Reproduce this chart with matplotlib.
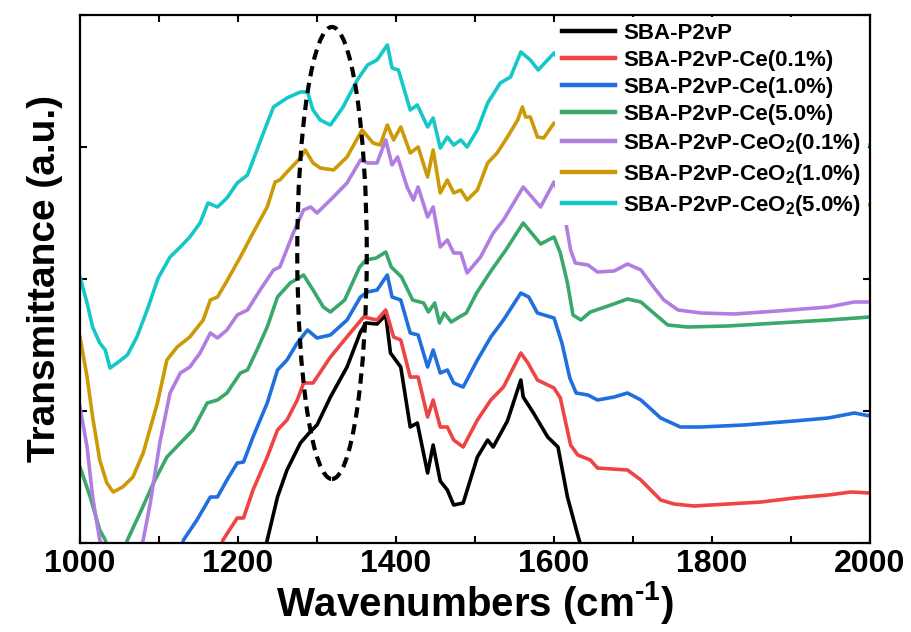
import matplotlib
matplotlib.use("Agg")
import matplotlib.pyplot as plt
from matplotlib.patches import Ellipse

plt.rcParams['font.family'] = ['Liberation Sans', 'DejaVu Sans']
plt.rcParams['font.weight'] = 'bold'
plt.rcParams['mathtext.fontset'] = 'custom'
plt.rcParams['mathtext.rm'] = 'Liberation Sans:bold'
plt.rcParams['mathtext.bf'] = 'Liberation Sans:bold'

# FTIR spectra, offset for clarity (arbitrary units)
wn_black = [1230, 1237, 1250, 1262, 1279, 1290, 1300, 1317, 1338, 1355, 1362, 1376, 1387, 1393,
            1406, 1418, 1427, 1440, 1447, 1456, 1465, 1473, 1485, 1503, 1516, 1523, 1541, 1558,
            1561, 1574, 1592, 1605, 1617, 1630, 1640]
t_black = [-20, 3, 46, 73, 100, 110, 118, 146, 176, 211, 220, 219, 228, 190,
           176, 116, 120, 70, 98, 62, 53, 38, 40, 86, 103, 96, 122, 163,
           146, 130, 106, 96, 46, 8, -20]

wn_red = [1175, 1181, 1199, 1207, 1219, 1237, 1250, 1262, 1275, 1283, 1295, 1317, 1342, 1359,
          1376, 1387, 1397, 1406, 1418, 1428, 1440, 1447, 1456, 1465, 1473, 1485, 1503, 1520,
          1536, 1558, 1567, 1579, 1600, 1608, 1621, 1630, 1646, 1655, 1693, 1710, 1735, 1752,
          1777, 1820, 1862, 1904, 1947, 1976, 2000]
t_red = [-20, 3, 25, 25, 53, 86, 113, 123, 143, 160, 160, 186, 210, 226,
         223, 233, 206, 203, 166, 166, 126, 143, 116, 116, 103, 96, 123, 143,
         156, 190, 180, 163, 155, 145, 98, 88, 83, 75, 73, 63, 43, 39,
         37, 39, 41, 45, 48, 51, 50]

wn_blue = [1125, 1131, 1148, 1165, 1174, 1186, 1199, 1207, 1219, 1237, 1250, 1262, 1275, 1288,
           1300, 1317, 1338, 1355, 1364, 1376, 1389, 1395, 1406, 1418, 1428, 1440, 1447, 1456,
           1465, 1473, 1485, 1503, 1520, 1536, 1558, 1568, 1579, 1600, 1610, 1620, 1628, 1643,
           1655, 1676, 1693, 1710, 1735, 1760, 1786, 1840, 1904, 1947, 1980, 2000]
t_blue = [-20, 3, 23, 46, 46, 63, 80, 81, 106, 140, 173, 183, 200, 213,
          205, 208, 223, 246, 251, 253, 268, 246, 243, 210, 208, 176, 193, 170,
          173, 160, 156, 183, 206, 223, 250, 246, 230, 225, 200, 165, 150, 148,
          143, 146, 150, 143, 125, 116, 116, 118, 122, 125, 130, 127]

wn_green = [1000, 1013, 1025, 1032, 1040, 1052, 1060, 1076, 1093, 1110, 1127, 1143, 1161, 1174,
            1186, 1203, 1212, 1224, 1237, 1250, 1266, 1283, 1295, 1308, 1317, 1335, 1354, 1362,
            1375, 1387, 1394, 1407, 1421, 1435, 1441, 1449, 1455, 1461, 1470, 1480, 1489, 1502,
            1521, 1539, 1561, 1583, 1600, 1608, 1617, 1624, 1634, 1646, 1672, 1693, 1710, 1726,
            1744, 1769, 1820, 1883, 1947, 2000]
t_green = [76, 46, 13, 3, -20, -20, 3, 30, 60, 86, 100, 113, 140, 143,
           150, 170, 173, 193, 216, 246, 260, 268, 253, 236, 231, 243, 276, 283,
           285, 291, 276, 266, 243, 240, 231, 240, 220, 230, 221, 226, 230, 250,
           273, 293, 320, 299, 306, 290, 260, 228, 223, 231, 238, 244, 241, 230,
           218, 216, 217, 220, 223, 226]

wn_purple = [1000, 1009, 1016, 1025, 1040, 1070, 1080, 1089, 1101, 1114, 1127, 1139, 1152, 1165,
             1174, 1186, 1199, 1212, 1228, 1245, 1253, 1270, 1283, 1292, 1300, 1317, 1338, 1355,
             1364, 1376, 1387, 1395, 1402, 1414, 1422, 1428, 1440, 1447, 1456, 1465, 1473, 1482,
             1490, 1507, 1523, 1536, 1561, 1583, 1600, 1608, 1615, 1621, 1627, 1643, 1655, 1676,
             1693, 1710, 1726, 1739, 1757, 1786, 1828, 1883, 1947, 1980, 2000]
t_purple = [136, 96, 46, 3, -20, -20, 3, 40, 100, 150, 170, 176, 190, 210,
            205, 213, 228, 233, 253, 273, 276, 310, 333, 336, 330, 343, 360, 383,
            380, 380, 403, 378, 386, 356, 343, 356, 326, 336, 296, 303, 290, 290,
            270, 286, 310, 323, 356, 336, 361, 345, 320, 293, 280, 278, 271, 272,
            279, 273, 256, 243, 233, 230, 229, 232, 236, 241, 241]

wn_gold = [1000, 1009, 1016, 1025, 1034, 1042, 1054, 1067, 1080, 1098, 1110, 1123, 1139, 1156,
           1165, 1174, 1186, 1203, 1219, 1237, 1247, 1253, 1262, 1279, 1285, 1295, 1304, 1321,
           1338, 1357, 1371, 1380, 1389, 1397, 1406, 1418, 1428, 1440, 1447, 1456, 1465, 1473,
           1482, 1490, 1503, 1516, 1528, 1541, 1554, 1560, 1564, 1570, 1579, 1587, 1600, 1615,
           1627, 1643, 1676, 1693, 1726, 1757, 1786, 1883, 1947, 2000]
t_gold = [206, 166, 126, 83, 60, 51, 56, 66, 90, 140, 183, 196, 206, 223,
          243, 246, 262, 286, 310, 336, 361, 363, 371, 385, 393, 380, 375, 373,
          386, 413, 400, 398, 418, 403, 416, 390, 396, 366, 393, 350, 363, 350,
          353, 343, 353, 380, 390, 406, 423, 436, 426, 426, 406, 405, 420, 410,
          385, 372, 370, 376, 356, 333, 330, 332, 335, 338]

wn_cyan = [1000, 1009, 1016, 1025, 1032, 1038, 1047, 1060, 1072, 1085, 1099, 1114, 1127, 1139,
           1152, 1162, 1174, 1186, 1199, 1212, 1224, 1237, 1245, 1262, 1279, 1288, 1295, 1304,
           1317, 1333, 1351, 1364, 1376, 1389, 1395, 1403, 1418, 1427, 1440, 1447, 1456, 1465,
           1473, 1482, 1490, 1503, 1516, 1532, 1545, 1558, 1570, 1580, 1600, 1627, 1655, 1693,
           1726, 1757, 1800, 1900, 2000]
t_cyan = [266, 240, 216, 200, 193, 175, 180, 188, 206, 233, 265, 286, 296, 306,
          320, 340, 336, 345, 360, 368, 393, 420, 436, 445, 451, 451, 433, 423,
          418, 436, 463, 478, 483, 498, 475, 473, 433, 438, 416, 425, 395, 406,
          398, 403, 396, 413, 440, 460, 466, 491, 483, 473, 490, 460, 448, 450,
          430, 400, 395, 396, 398]

labels = ['SBA-P2vP', 'SBA-P2vP-Ce(0.1%)', 'SBA-P2vP-Ce(1.0%)', 'SBA-P2vP-Ce(5.0%)',
          r'SBA-P2vP-CeO$_\mathbf{2}$(0.1%)', r'SBA-P2vP-CeO$_\mathbf{2}$(1.0%)',
          r'SBA-P2vP-CeO$_\mathbf{2}$(5.0%)']
colors = ['#000000', '#ef4444', '#1f6fdf', '#3aa86b', '#b07ee0', '#cc9a06', '#14c8c8']

series = [(wn_black, t_black), (wn_red, t_red), (wn_blue, t_blue), (wn_green, t_green),
          (wn_purple, t_purple), (wn_gold, t_gold), (wn_cyan, t_cyan)]

fig = plt.figure(figsize=(9.12, 6.32), dpi=100)
ax = fig.add_axes([0.0877, 0.1408, 0.8663, 0.8355])

for (x, y), c, lab in zip(series, colors, labels):
    ax.plot(x, y, color=c, lw=2.6, label=lab)

# dashed ellipse marking the band near 1320 cm-1
ell = Ellipse((1319, 290), width=88, height=452, fill=False, edgecolor='black',
              lw=3, linestyle=(0, (2.5, 1.6)), zorder=4)
ax.add_patch(ell)

ax.set_xlim(1000, 2000)
ax.set_ylim(0, 528)
ax.set_xticks([1000, 1200, 1400, 1600, 1800, 2000])
ax.set_xticks(range(1100, 2000, 200), minor=True)
ax.set_yticks([0, 132, 264, 396, 528])
ax.set_yticklabels([])
ax.tick_params(which='both', direction='in', top=True, right=True, length=5, width=1.5,
               labelsize=23, pad=4)
for s in ax.spines.values():
    s.set_linewidth(1.6)

ax.set_xlabel(r'Wavenumbers (cm$^{\text{-1}}$)', fontsize=29, fontweight='bold', labelpad=0)
ax.set_ylabel('Transmittance (a.u.)', fontsize=28, fontweight='bold', labelpad=8)

leg = ax.legend(loc='upper right', bbox_to_anchor=(0.997, 0.997), fontsize=16,
                frameon=True, facecolor='white', edgecolor='none', framealpha=1,
                handlelength=2.4, handletextpad=0.37, labelspacing=0.27, borderpad=0.3,
                borderaxespad=0)
for line in leg.get_lines():
    line.set_linewidth(3.2)

fig.savefig('out.png', dpi=100)
